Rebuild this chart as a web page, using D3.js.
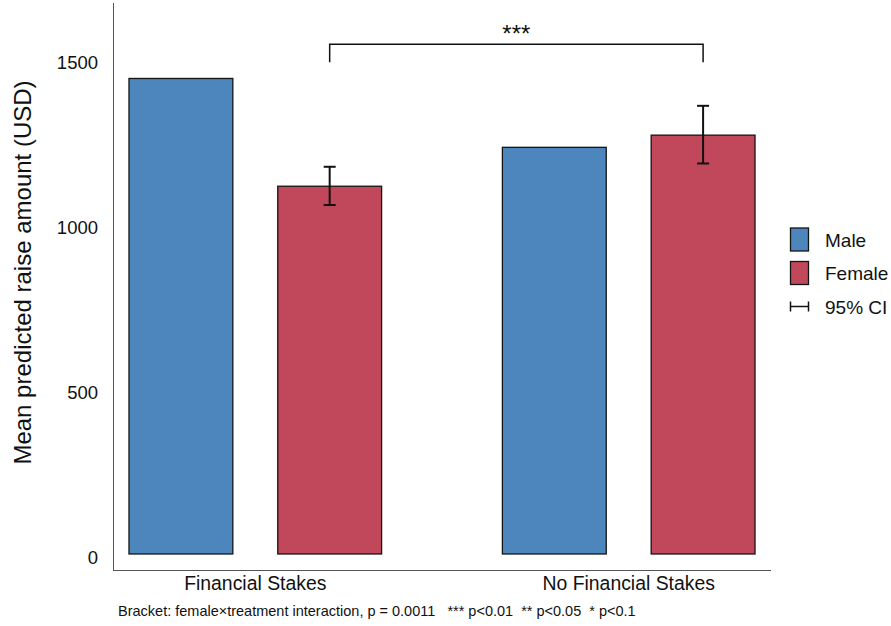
<!DOCTYPE html>
<html>
<head>
<meta charset="utf-8">
<script src="https://cdn.jsdelivr.net/npm/d3@7"></script>
<style>
  html, body { margin: 0; padding: 0; background: #fff; }
  svg { display: block; font-family: "Liberation Sans", Arial, Helvetica, sans-serif; }
</style>
</head>
<body>
<svg id="chart" width="891" height="626"></svg>
<script>
// Treatment groups and respondent gender
const groups = ["Financial Stakes", "No Financial Stakes"];
const genders = ["Male", "Female"];

// Mean predicted raise amount (USD)
const maleMeans = [1443, 1234];
const femaleMeans = [1116, 1271];

// 95% confidence interval for the female estimates
const femaleLower = [1059, 1185];
const femaleUpper = [1175, 1360];

// Y-axis ticks
const yTicks = [0, 500, 1000, 1500];

// Significance bracket (female × treatment interaction)
const bracketLevels = [1492, 1547];
const bracketLabel = "***";
const footnote = "Bracket: female\u00d7treatment interaction, p = 0.0011   *** p<0.01  ** p<0.05  * p<0.1";

const colors = { Male: "#4c86bd", Female: "#c0485a" };
const ink = "#111";

const svg = d3.select("#chart");
const panel = { left: 113, right: 771, top: 3, bottom: 570 };

const y = d3.scaleLinear().domain([-48.6, 1672]).range([panel.bottom, panel.top]);
const x0 = d3.scaleBand().domain(groups).range([panel.left, panel.right])
  .paddingInner(0.3235).paddingOuter(0.0428);
const x1 = d3.scaleBand().domain(genders).range([0, x0.bandwidth()])
  .paddingInner(0.302).paddingOuter(0);

const rows = groups.map((g, i) => ({
  group: g,
  values: [
    { gender: "Male", value: maleMeans[i] },
    { gender: "Female", value: femaleMeans[i], lo: femaleLower[i], hi: femaleUpper[i] }
  ]
}));

// Axis lines
svg.append("line")
  .attr("x1", panel.left + 0.5).attr("x2", panel.left + 0.5)
  .attr("y1", panel.top).attr("y2", panel.bottom)
  .attr("stroke", "#555").attr("stroke-width", 1);
svg.append("line")
  .attr("x1", panel.left).attr("x2", panel.right)
  .attr("y1", panel.bottom + 0.5).attr("y2", panel.bottom + 0.5)
  .attr("stroke", "#555").attr("stroke-width", 1);

// Y tick labels
const yAxis = d3.axisLeft(y).tickValues(yTicks).tickSize(0).tickPadding(0).tickFormat(d3.format("d"));
const yg = svg.append("g").attr("transform", `translate(98,0)`).call(yAxis);
yg.select(".domain").remove();
yg.selectAll("text")
  .attr("font-size", 18.5).attr("fill", ink)
  .attr("font-family", "Liberation Sans, Arial, sans-serif")
  .attr("dy", "0.5em");

// X category labels
const xAxis = d3.axisBottom(x0).tickSize(0).tickPadding(0);
const xg = svg.append("g").attr("transform", `translate(0,${panel.bottom})`).call(xAxis);
xg.select(".domain").remove();
xg.selectAll("text")
  .attr("font-size", 19.4).attr("fill", ink)
  .attr("font-family", "Liberation Sans, Arial, sans-serif")
  .attr("y", 20).attr("dy", 0);

// Bars
const gGroups = svg.append("g").selectAll("g").data(rows).join("g")
  .attr("transform", d => `translate(${x0(d.group)},0)`);

gGroups.selectAll("rect").data(d => d.values).join("rect")
  .attr("x", d => x1(d.gender))
  .attr("y", d => y(d.value))
  .attr("width", x1.bandwidth())
  .attr("height", d => y(0) - y(d.value))
  .attr("fill", d => colors[d.gender])
  .attr("stroke", "#141414").attr("stroke-width", 1.3);

// Error bars (female only)
const capHalf = 6;
gGroups.each(function(d) {
  const g = d3.select(this);
  d.values.filter(v => v.lo != null).forEach(v => {
    const cx = x1(v.gender) + x1.bandwidth() / 2;
    g.append("line").attr("x1", cx).attr("x2", cx)
      .attr("y1", y(v.lo)).attr("y2", y(v.hi))
      .attr("stroke", ink).attr("stroke-width", 2);
    [v.lo, v.hi].forEach(val => {
      g.append("line").attr("x1", cx - capHalf).attr("x2", cx + capHalf)
        .attr("y1", y(val)).attr("y2", y(val))
        .attr("stroke", ink).attr("stroke-width", 2);
    });
  });
});

// Significance bracket between the female bars
const bx1 = x0(groups[0]) + x1("Female") + x1.bandwidth() / 2;
const bx2 = x0(groups[1]) + x1("Female") + x1.bandwidth() / 2;
const bracketPath = d3.path();
bracketPath.moveTo(bx1, y(bracketLevels[0]));
bracketPath.lineTo(bx1, y(bracketLevels[1]));
bracketPath.lineTo(bx2, y(bracketLevels[1]));
bracketPath.lineTo(bx2, y(bracketLevels[0]));
svg.append("path").attr("d", bracketPath.toString())
  .attr("fill", "none").attr("stroke", ink).attr("stroke-width", 1.5);
svg.append("text")
  .attr("x", (bx1 + bx2) / 2).attr("y", y(bracketLevels[1]) - 2)
  .attr("text-anchor", "middle").attr("font-size", 24).attr("fill", ink)
  .text(bracketLabel);

// Y-axis title
svg.append("text")
  .attr("transform", `translate(31,${(panel.top + panel.bottom) / 2 - 14}) rotate(-90)`)
  .attr("text-anchor", "middle").attr("font-size", 24).attr("fill", ink)
  .text("Mean predicted raise amount (USD)");

// Legend
const legend = svg.append("g").attr("transform", "translate(790,0)");
const legendRows = genders.map((g, i) => ({ label: g, cy: 239.5 + i * 33.5 }));
legendRows.forEach(r => {
  legend.append("rect").attr("x", 0.5).attr("y", r.cy - 11.5)
    .attr("width", 18).attr("height", 23)
    .attr("fill", colors[r.label]).attr("stroke", "#141414").attr("stroke-width", 1.3);
  legend.append("text").attr("x", 35).attr("y", r.cy + 7)
    .attr("font-size", 19).attr("fill", ink).text(r.label);
});
const ciY = 239.5 + 2 * 33.5;
legend.append("line").attr("x1", 0.5).attr("x2", 18.5).attr("y1", ciY).attr("y2", ciY)
  .attr("stroke", ink).attr("stroke-width", 1.5);
[0.5, 18.5].forEach(xx => legend.append("line").attr("x1", xx).attr("x2", xx)
  .attr("y1", ciY - 5).attr("y2", ciY + 5).attr("stroke", ink).attr("stroke-width", 1.5));
legend.append("text").attr("x", 35).attr("y", ciY + 7)
  .attr("font-size", 19).attr("fill", ink).text("95% CI");

// Footnote
svg.append("text")
  .attr("x", 118).attr("y", 616)
  .attr("font-size", 14.5).attr("fill", ink)
  .style("white-space", "pre")
  .text(footnote);
</script>
</body>
</html>
